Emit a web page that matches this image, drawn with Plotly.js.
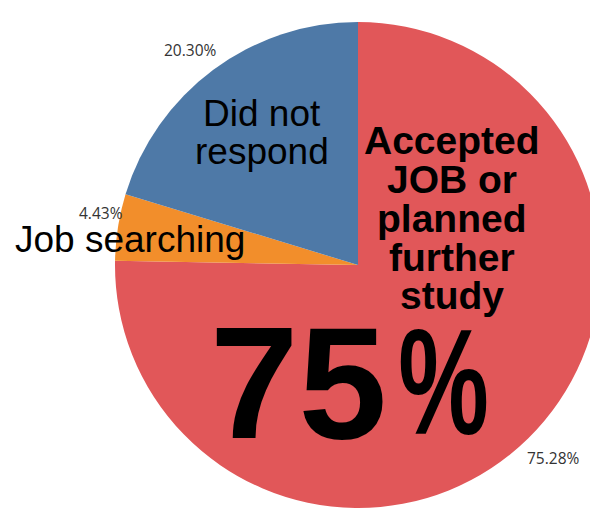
<!DOCTYPE html>
<html>
<head>
<meta charset="utf-8">
<script src="https://cdn.plot.ly/plotly-3.0.1.min.js"></script>
<style>
html,body{margin:0;padding:0;background:#fff;overflow:hidden;}
#chart{width:620px;height:510px;}
</style>
</head>
<body>
<div id="chart"></div>
<script>
// Data
var categories = ["Accepted JOB or planned further study", "Job searching", "Did not respond"];
var values = [75.28, 4.43, 20.30];
var colors = ["#E15759", "#F28E2B", "#4E79A7"];
var bigLabelAccepted = ["Accepted", "JOB or", "planned", "further", "study"];
var bigLabelNoResp = ["Did not", "respond"];
var bigLabelSearch = ["Job searching"];
var headline = ["75", "%"];

var W = 620, H = 510;
function px(x){ return x / W; }
function py(y){ return 1 - y / H; }

var trace = {
  type: "pie",
  labels: categories,
  values: values,
  sort: false,
  direction: "clockwise",
  rotation: 0,
  marker: {colors: colors, line: {width: 0}},
  textinfo: "none",
  hoverinfo: "label+percent",
  showlegend: false,
  domain: {x: [px(358 - 243), px(358 + 243)], y: [py(265 + 243), py(265 - 243)]}
};

var ann = [];
var F = "Arial, Liberation Sans, Helvetica, sans-serif";

// value labels outside the slices
var valuePos = [[553, 458], [101, 213], [190, 50]];
values.forEach(function(v, i){
  ann.push({text: v.toFixed(2) + "%", x: px(valuePos[i][0]), y: py(valuePos[i][1]), xref: "paper", yref: "paper",
    showarrow: false, xanchor: "center", yanchor: "middle",
    font: {family: "Open Sans, Liberation Sans, Arial", size: 15.5, color: "#333333"}});
});

var accY = [141, 180, 219, 258, 296];
bigLabelAccepted.forEach(function(t, i){
  ann.push({text: "<b>" + t + "</b>", x: px(452), y: py(accY[i] - 1), xref: "paper", yref: "paper",
    showarrow: false, xanchor: "center", yanchor: "middle",
    font: {family: F, size: 39, color: "#000"}});
});
var nrY = [114, 152];
bigLabelNoResp.forEach(function(t, i){
  ann.push({text: t, x: px(262), y: py(nrY[i] - 1), xref: "paper", yref: "paper",
    showarrow: false, xanchor: "center", yanchor: "middle",
    font: {family: F, size: 37, color: "#000"}});
});
ann.push({text: bigLabelSearch[0], x: px(130), y: py(240 - 1), xref: "paper", yref: "paper",
  showarrow: false, xanchor: "center", yanchor: "middle",
  font: {family: F, size: 37, color: "#000"}});
ann.push({text: "<b>" + headline[0] + "</b>", x: px(298), y: py(381 + 2), xref: "paper", yref: "paper",
  showarrow: false, xanchor: "center", yanchor: "middle",
  font: {family: F, size: 159, color: "#000"}});
ann.push({text: "<b>" + headline[1] + "</b>", x: px(443), y: py(381 + 1), xref: "paper", yref: "paper",
  showarrow: false, xanchor: "center", yanchor: "middle",
  font: {family: F, size: 150, color: "#000"}});

var layout = {
  width: W, height: H,
  margin: {l: 0, r: 0, t: 0, b: 0, pad: 0},
  paper_bgcolor: "#ffffff",
  plot_bgcolor: "#ffffff",
  showlegend: false,
  annotations: ann
};

Plotly.newPlot("chart", [trace], layout, {displayModeBar: false, staticPlot: true}).then(function(gd){
  // narrow the big percent sign horizontally, as in the reference
  var idx = ann.length - 1;
  var g = gd.querySelector('g.annotation[data-index="' + idx + '"] text');
  if (g) {
    var bb = g.getBBox();
    var cx = bb.x + bb.width / 2;
    var prev = g.getAttribute("transform") || "";
    g.setAttribute("transform", "translate(" + cx + ",0) scale(0.68,1) translate(" + (-cx) + ",0) " + prev);
  }
});
</script>
</body>
</html>
